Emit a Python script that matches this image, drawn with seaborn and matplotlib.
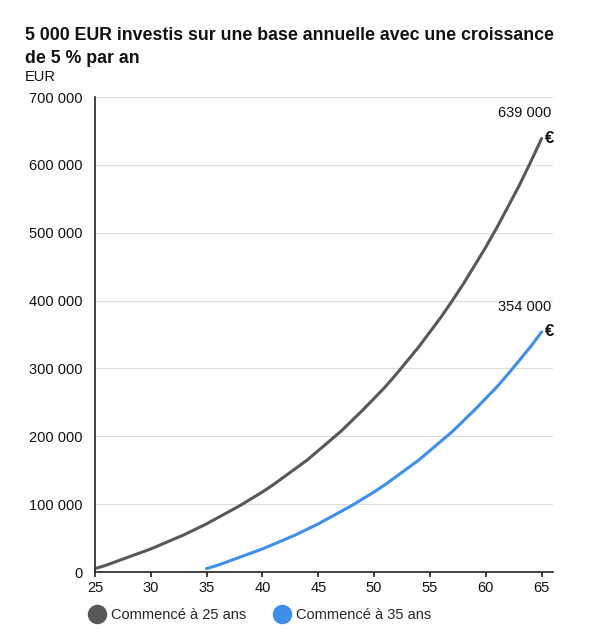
import matplotlib
matplotlib.use("Agg")
import matplotlib.pyplot as plt
import seaborn as sns
import pandas as pd
from matplotlib.lines import Line2D

ages_25 = list(range(25, 66))
values_25 = [5, 10, 16, 22, 28, 34, 41, 48, 55, 63, 71, 80, 89, 98, 108, 118, 129,
             141, 153, 165, 179, 193, 207, 223, 239, 256, 273, 292, 312, 332, 354,
             376, 400, 425, 452, 479, 508, 539, 570, 604, 639]
ages_35 = list(range(35, 66))
values_35 = [5, 10, 16, 22, 28, 34, 41, 48, 55, 63, 71, 80, 89, 98, 108, 118, 129,
             141, 153, 165, 179, 193, 207, 223, 239, 256, 273, 292, 312, 332, 354]
series_names = ["Commencé à 25 ans", "Commencé à 35 ans"]
end_labels = ["639 000", "354 000"]
x_ticks = [25, 30, 35, 40, 45, 50, 55, 60, 65]
y_ticks = [0, 100000, 200000, 300000, 400000, 500000, 600000, 700000]
title = "5 000 EUR investis sur une base annuelle avec une croissance\nde 5 % par an"
unit = "EUR"

colors = ["#58585b", "#3d8fea"]

df = pd.concat([
    pd.DataFrame({"age": ages_25, "value": [v * 1000 for v in values_25], "serie": series_names[0]}),
    pd.DataFrame({"age": ages_35, "value": [v * 1000 for v in values_35], "serie": series_names[1]}),
])

sns.set_style("white")
plt.rcParams["font.family"] = ["Liberation Sans", "DejaVu Sans"]

fig = plt.figure(figsize=(5.97, 6.35), dpi=100)
ax = fig.add_axes([0.159, 0.0992, 0.767, 0.7478])

sns.lineplot(data=df, x="age", y="value", hue="serie", palette=colors,
             linewidth=2.2, ax=ax, legend=False)

ax.set_xlim(25, 66)
ax.set_ylim(0, 700000)
ax.set_xticks(x_ticks)
ax.set_yticks(y_ticks)
ax.set_yticklabels([f"{v:,}".replace(",", " ") for v in y_ticks])
ax.tick_params(axis="x", bottom=True, direction="out", length=3.5, width=1.2,
               color="#222222", labelsize=10.5, pad=3, labelcolor="#111111")
ax.tick_params(axis="y", left=False, length=0, labelsize=10.5, pad=9,
               labelcolor="#111111")
ax.set_xlabel("")
ax.set_ylabel("")
ax.yaxis.grid(True, color="#dcdcdc", linewidth=0.8)
ax.xaxis.grid(False)
for s in ["top", "right"]:
    ax.spines[s].set_visible(False)
for s in ["left", "bottom"]:
    ax.spines[s].set_color("#222222")
    ax.spines[s].set_linewidth(1.2)

# end labels
ends = [(ages_25[-1], values_25[-1] * 1000), (ages_35[-1], values_35[-1] * 1000)]
for (x, y), lab in zip(ends, end_labels):
    ax.annotate(lab, (x, y), xytext=(7, 13), textcoords="offset points",
                ha="right", va="bottom", fontsize=10.5, color="#111111")
    ax.annotate("€", (x, y), xytext=(2, 0), textcoords="offset points",
                ha="left", va="center", fontsize=12, fontweight="semibold",
                color="#111111")

fig.text(0.042, 0.957, title, fontsize=12.8, fontweight="bold", ha="left", va="top",
         color="#111111", linespacing=1.45)
fig.text(0.042, 0.868, unit, fontsize=10.5, ha="left", va="bottom", color="#111111")

handles = [Line2D([0], [0], marker="o", linestyle="", markersize=13,
                  markerfacecolor=c, markeredgecolor=c) for c in colors]
fig.legend(handles, series_names, loc="lower left", bbox_to_anchor=(0.128, 0.0),
           ncol=2, frameon=False, fontsize=10.5, handletextpad=0.45,
           columnspacing=2.0, handlelength=1.0)

fig.savefig("out.png", dpi=100)
